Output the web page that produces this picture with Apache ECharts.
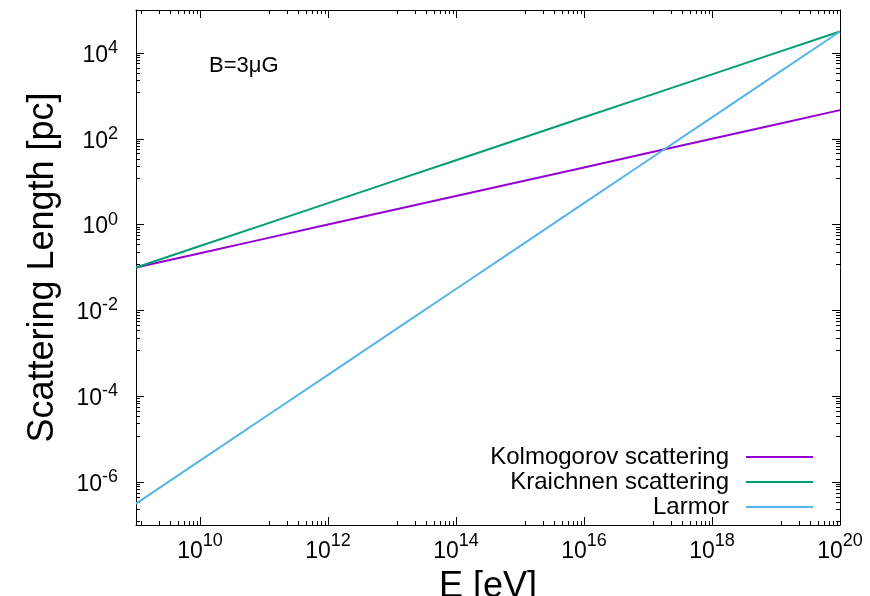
<!DOCTYPE html>
<html>
<head>
<meta charset="utf-8">
<script src="https://cdn.jsdelivr.net/npm/echarts@6/dist/echarts.min.js"></script>
<style>
html,body{margin:0;padding:0;background:#fff;}
#chart{width:870px;height:596px;}
</style>
</head>
<body>
<div id="chart"></div>
<script>
// ---- data ----
const energies = [1e9, 1e10, 1e11, 1e12, 1e13, 1e14, 1e15, 1e16, 1e17, 1e18, 1e19, 1e20];
const kolmogorov = [0.1, 0.215, 0.464, 1.0, 2.15, 4.64, 10, 21.5, 46.4, 100, 215, 464];
const kraichnan = [0.1, 0.316, 1.0, 3.16, 10, 31.6, 100, 316, 1000, 3160, 10000, 31600];
const larmor = [3.16e-7, 3.16e-6, 3.16e-5, 3.16e-4, 3.16e-3, 3.16e-2, 0.316, 3.16, 31.6, 316, 3160, 31600];
const seriesNames = ['Kolmogorov scattering', 'Kraichnen scattering', 'Larmor'];
const seriesColors = ['#9400d3', '#009e73', '#56b4e9'];

// tick values
const xMajorTicks = [1e10, 1e12, 1e14, 1e16, 1e18, 1e20];
const xMinorTicks = [
  1.2e9, 2.3e9, 3.4e9, 4.5e9, 5.6e9, 6.7e9, 7.8e9, 8.9e9,
  1.2e11, 2.3e11, 3.4e11, 4.5e11, 5.6e11, 6.7e11, 7.8e11, 8.9e11,
  1.2e13, 2.3e13, 3.4e13, 4.5e13, 5.6e13, 6.7e13, 7.8e13, 8.9e13,
  1.2e15, 2.3e15, 3.4e15, 4.5e15, 5.6e15, 6.7e15, 7.8e15, 8.9e15,
  1.2e17, 2.3e17, 3.4e17, 4.5e17, 5.6e17, 6.7e17, 7.8e17, 8.9e17,
  1.2e19, 2.3e19, 3.4e19, 4.5e19, 5.6e19, 6.7e19, 7.8e19, 8.9e19
];
const yMajorTicks = [1e-6, 1e-4, 1e-2, 1e0, 1e2, 1e4];
const yMinorTicks = [
  1.2e-7, 2.3e-7, 3.4e-7, 4.5e-7, 5.6e-7, 6.7e-7, 7.8e-7, 8.9e-7,
  1.2e-5, 2.3e-5, 3.4e-5, 4.5e-5, 5.6e-5, 6.7e-5, 7.8e-5, 8.9e-5,
  1.2e-3, 2.3e-3, 3.4e-3, 4.5e-3, 5.6e-3, 6.7e-3, 7.8e-3, 8.9e-3,
  1.2e-1, 2.3e-1, 3.4e-1, 4.5e-1, 5.6e-1, 6.7e-1, 7.8e-1, 8.9e-1,
  1.2e1, 2.3e1, 3.4e1, 4.5e1, 5.6e1, 6.7e1, 7.8e1, 8.9e1,
  1.2e3, 2.3e3, 3.4e3, 4.5e3, 5.6e3, 6.7e3, 7.8e3, 8.9e3
];
const xName = 'E [eV]';
const yName = 'Scattering Length [pc]';
const annotation = 'B=3μG';

// ---- chart ----
const FONT = '"Liberation Sans", Arial, Helvetica, sans-serif';
const chart = echarts.init(document.getElementById('chart'), null, {renderer: 'canvas'});

function expFormatter(v) {
  const e = Math.round(Math.log10(v));
  return '{b|10}{s|' + e + '}';
}
const xRich = {
  b: {fontSize: 23, fontFamily: FONT, color: '#000', height: 23, lineHeight: 31, verticalAlign: 'bottom'},
  s: {fontSize: 18, fontFamily: FONT, color: '#000', height: 18, lineHeight: 18, verticalAlign: 'top'}
};
const yRich = {
  b: {fontSize: 23, fontFamily: FONT, color: '#000', height: 23, lineHeight: 28, verticalAlign: 'bottom'},
  s: {fontSize: 18, fontFamily: FONT, color: '#000', height: 18, lineHeight: 18, verticalAlign: 'top'}
};

function xAxisDef(pos, ticks, len, major, showLine) {
  const ax = {
    type: 'log', logBase: 10, min: 1e9, max: 1e20, position: pos,
    axisLine: {show: showLine, onZero: false, lineStyle: {color: '#000', width: 1}},
    axisTick: {show: true, inside: true, length: len, customValues: ticks, lineStyle: {color: '#000', width: 1}},
    axisLabel: {show: false},
    splitLine: {show: false},
    minorTick: {show: false}
  };
  if (major) {
    ax.axisLabel = {show: true, customValues: ticks, formatter: expFormatter, rich: xRich, margin: 7};
    ax.name = xName;
    ax.nameLocation = 'middle';
    ax.nameGap = 44;
    ax.nameTextStyle = {fontSize: 36, fontFamily: FONT, color: '#000'};
  }
  return ax;
}
function yAxisDef(pos, ticks, len, major, showLine) {
  const ax = {
    type: 'log', logBase: 10, min: 1e-7, max: 1e5, position: pos,
    axisLine: {show: showLine, onZero: false, lineStyle: {color: '#000', width: 1}},
    axisTick: {show: true, inside: true, length: len, customValues: ticks, lineStyle: {color: '#000', width: 1}},
    axisLabel: {show: false},
    splitLine: {show: false},
    minorTick: {show: false}
  };
  if (major) {
    ax.axisLabel = {show: true, customValues: ticks, formatter: expFormatter, rich: yRich, margin: 18};
    ax.name = yName;
    ax.nameLocation = 'middle';
    ax.nameGap = 75;
    ax.nameRotate = 90;
    ax.nameTextStyle = {fontSize: 36, fontFamily: FONT, color: '#000'};
  }
  return ax;
}

function pairs(values) {
  return energies.map((e, i) => [e, values[i]]);
}
const allValues = [kolmogorov, kraichnan, larmor];

const option = {
  animation: false,
  backgroundColor: '#fff',
  textStyle: {fontFamily: FONT},
  title: {
    text: annotation, left: 204, top: 50,
    textStyle: {fontSize: 22, fontWeight: 'normal', fontFamily: FONT, color: '#000'}
  },
  grid: {left: 136, right: 30, top: 10, bottom: 71, containLabel: false, outerBoundsMode: 'none'},
  legend: {
    orient: 'vertical', align: 'right', right: 52, top: 440,
    itemWidth: 67, itemHeight: 14, itemGap: 1,
    icon: 'path://M0,6 L67,6 L67,8 L0,8 Z',
    textStyle: {fontSize: 24, fontFamily: FONT, color: '#000', lineHeight: 24, padding: [0, 12, 0, 0]},
    data: seriesNames
  },
  xAxis: [
    xAxisDef('bottom', xMajorTicks, 8, true, true),
    xAxisDef('bottom', xMinorTicks, 4, false, false),
    xAxisDef('top', xMajorTicks, 8, false, true),
    xAxisDef('top', xMinorTicks, 4, false, false)
  ],
  yAxis: [
    yAxisDef('left', yMajorTicks, 8, true, true),
    yAxisDef('left', yMinorTicks, 4, false, false),
    yAxisDef('right', yMajorTicks, 8, false, true),
    yAxisDef('right', yMinorTicks, 4, false, false)
  ],
  series: seriesNames.map((name, i) => ({
    name: name,
    type: 'line',
    xAxisIndex: 0,
    yAxisIndex: 0,
    data: pairs(allValues[i]),
    symbol: 'none',
    showSymbol: false,
    lineStyle: {color: seriesColors[i], width: 2},
    itemStyle: {color: seriesColors[i]},
    z: 3 + i
  }))
};
chart.setOption(option);
</script>
</body>
</html>
